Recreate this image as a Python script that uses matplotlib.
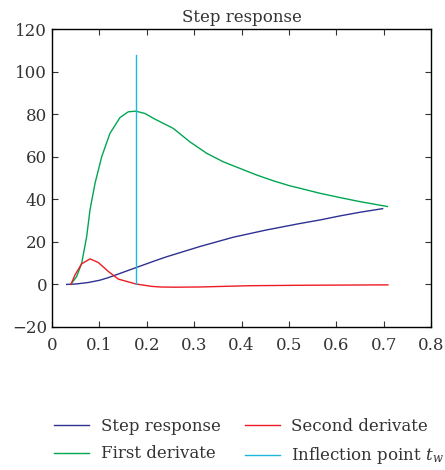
import matplotlib
matplotlib.use("Agg")
import matplotlib.pyplot as plt
import numpy as np

# values
t_step = [0.031, 0.05, 0.0766, 0.1013, 0.1189, 0.1365, 0.1773, 0.216, 0.242, 0.312,
          0.383, 0.453, 0.523, 0.566, 0.608, 0.65, 0.698]
step = [0.0, 0.2, 0.9, 2.0, 3.2, 4.6, 7.9, 11.0, 13.0, 17.8,
        22.2, 25.6, 28.6, 30.3, 32.2, 33.9, 35.6]

t_d1 = [0.0401, 0.052, 0.0627, 0.0732, 0.0802, 0.0908, 0.1049, 0.1224, 0.1435, 0.161,
        0.1773, 0.1963, 0.216, 0.256, 0.291, 0.3265, 0.3616, 0.3968, 0.432, 0.467,
        0.5024, 0.523, 0.566, 0.608, 0.65, 0.708]
d1 = [0.2, 3.7, 10.0, 22.5, 35.0, 47.5, 60.0, 71.0, 78.4, 81.1,
      81.4, 80.3, 77.8, 73.3, 67.0, 61.6, 57.6, 54.5, 51.4, 48.7,
      46.3, 45.2, 42.8, 40.8, 38.9, 36.6]

t_d2 = [0.040, 0.0486, 0.0627, 0.0802, 0.0977, 0.1189, 0.14, 0.1773, 0.21, 0.228,
        0.26, 0.312, 0.418, 0.523, 0.62, 0.709]
d2 = [0.0, 4.5, 9.7, 12.0, 10.3, 6.1, 2.5, 0.2, -0.9, -1.2,
      -1.3, -1.2, -0.6, -0.4, -0.3, -0.2]

t_w = 0.177
infl_y = [0, 108]

labels = ["Step response", "First derivate", "Second derivate", "Inflection point $t_w$"]

plt.rcParams["font.family"] = ["DejaVu Serif"]
plt.rcParams["mathtext.fontset"] = "dejavuserif"

fig = plt.figure(figsize=(4.45, 4.70), dpi=100)
ax = fig.add_axes([52 / 445, 1 - 327 / 470, 379 / 445, 298 / 470])

l1, = ax.plot(t_step, step, color="#2e3192", lw=1.0)
l2, = ax.plot(t_d1, d1, color="#00a651", lw=1.0)
l3, = ax.plot(t_d2, d2, color="#ed1c24", lw=1.0)
l4, = ax.plot([t_w, t_w], infl_y, color="#1cb8dc", lw=1.0)

ax.set_xlim(0, 0.8)
ax.set_ylim(-20, 120)
ax.set_xticks(np.arange(0, 0.81, 0.1))
ax.set_xticklabels(["0", "0.1", "0.2", "0.3", "0.4", "0.5", "0.6", "0.7", "0.8"])
ax.set_yticks(np.arange(-20, 121, 20))
ax.tick_params(direction="in", top=True, right=True, length=4, labelsize=12, colors="#333333")
ax.tick_params(axis="x", pad=7)
for s in ax.spines.values():
    s.set_linewidth(1.0)
ax.set_title("Step response", fontsize=12, color="#333333", pad=5)

# legend sits below the axes and runs off the right edge, as in the reference
fig.legend([l1, l2, l3, l4], labels, ncol=2, frameon=False, loc="upper left",
           bbox_to_anchor=(39 / 445, 1 - 403 / 470), fontsize=12, handlelength=2.1,
           columnspacing=1.45, labelspacing=0.62, handletextpad=0.7, labelcolor="#333333")

plt.savefig("out.png", dpi=100)
